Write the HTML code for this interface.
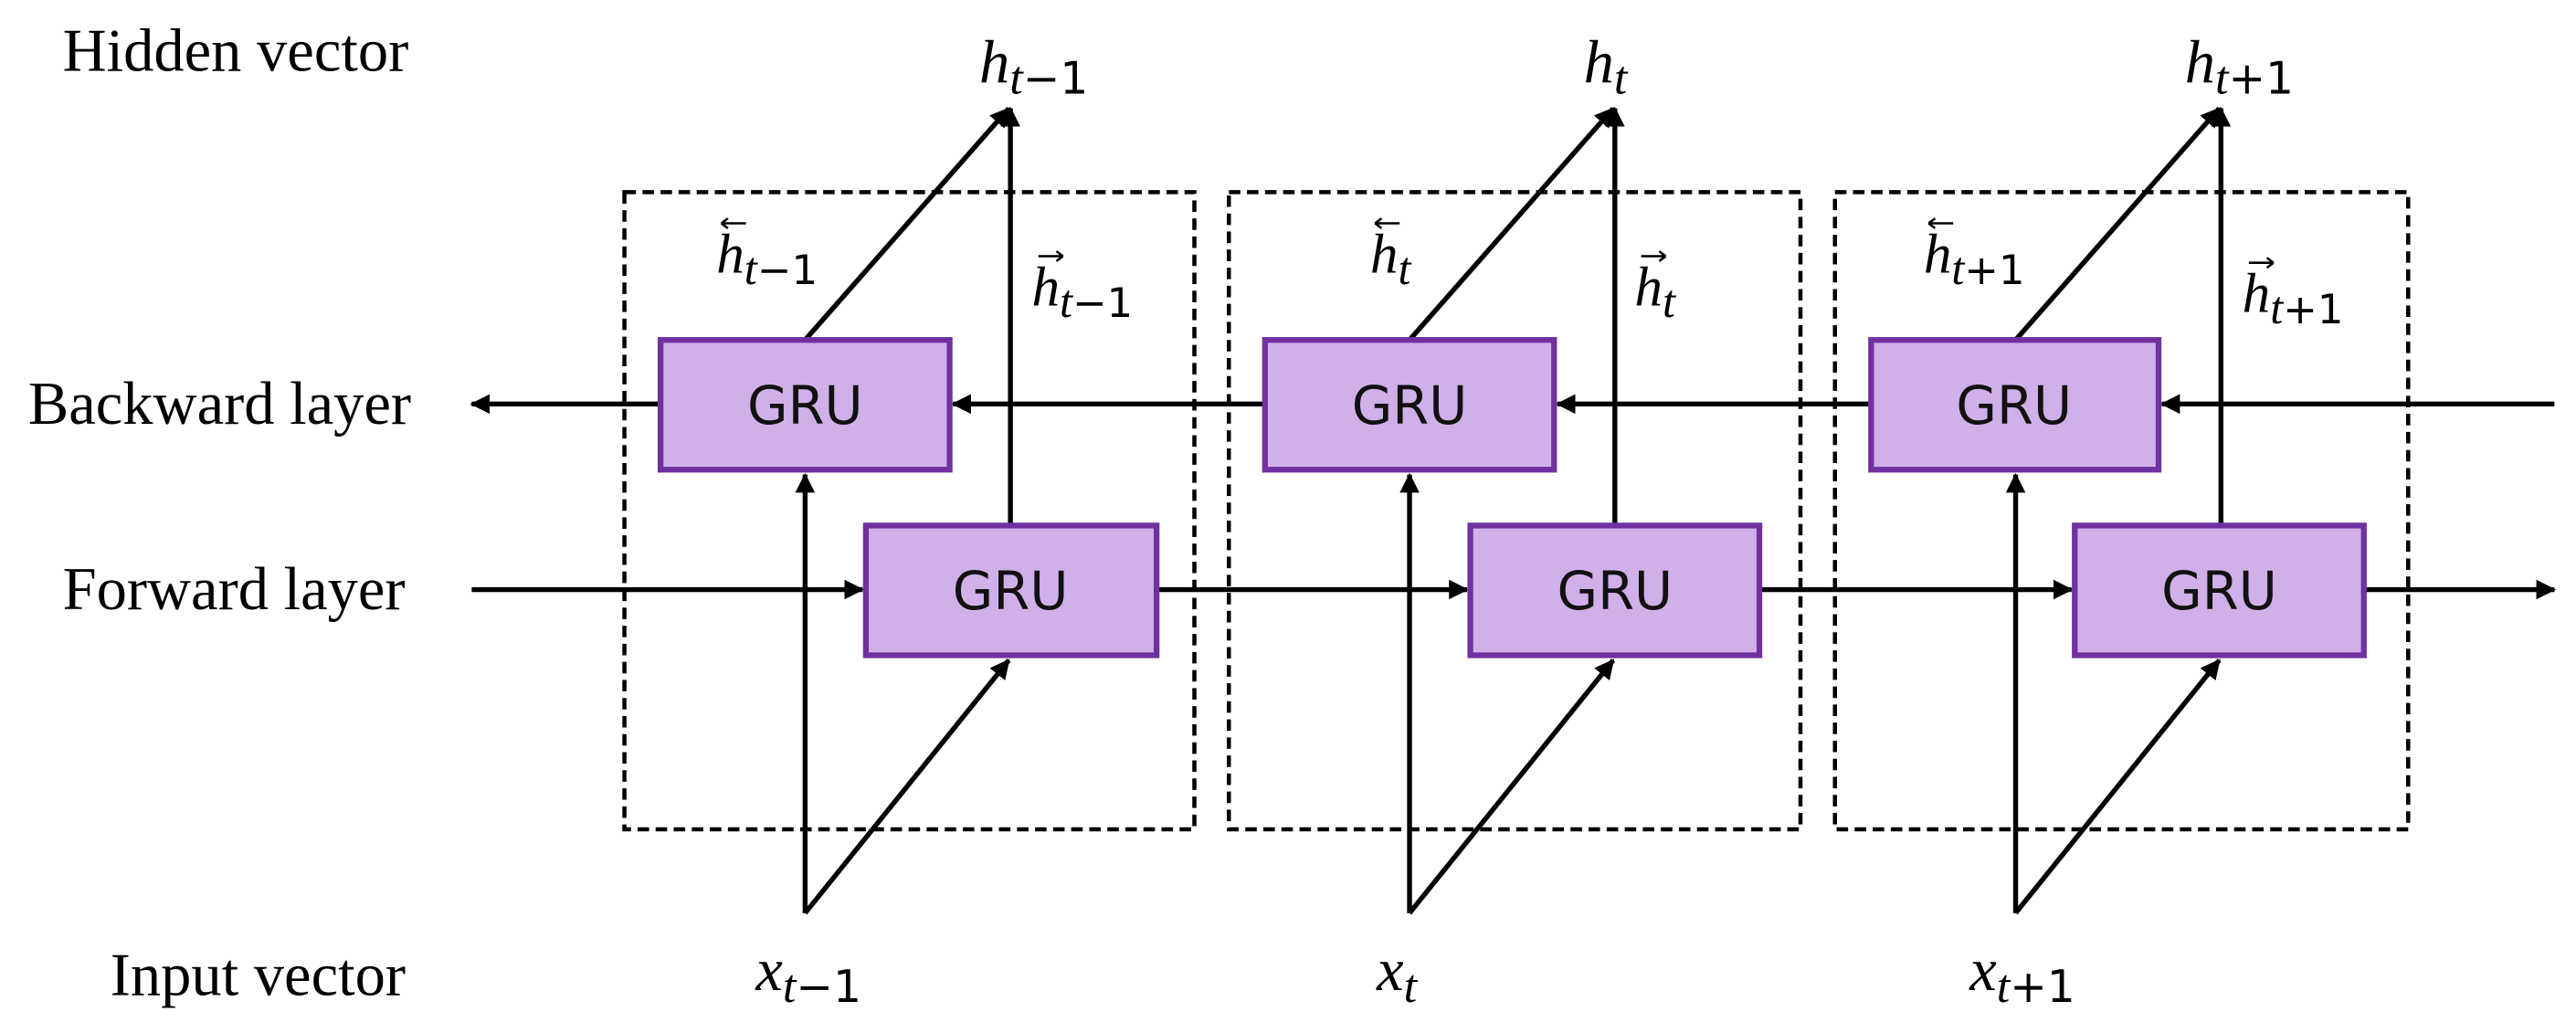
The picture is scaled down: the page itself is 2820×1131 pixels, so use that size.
<!DOCTYPE html>
<html><head><meta charset="utf-8"><style>
html,body{margin:0;padding:0;background:#fff;}
svg{display:block;}
.lab{font-family:"Liberation Serif",serif;font-size:37px;fill:#000;}
.gru{font-family:"DejaVu Sans","Liberation Sans",sans-serif;font-size:32px;fill:#111;}
.m{font-family:"Liberation Serif",serif;font-style:italic;fill:#000;}
.s{font-family:"DejaVu Sans","Liberation Sans",sans-serif;font-style:normal;}
</style></head><body>
<svg width="2820" height="1131" viewBox="0 0 1568 629" xmlns="http://www.w3.org/2000/svg">
<defs>
<marker id="a" markerWidth="12" markerHeight="12" refX="11" refY="6" orient="auto" markerUnits="userSpaceOnUse">
<path d="M0,0 L12,6 L0,12 Z" fill="#000"/>
</marker>
</defs>
<text class="lab" x="38" y="43">Hidden vector</text>
<text class="lab" x="17" y="258">Backward layer</text>
<text class="lab" x="38" y="371">Forward layer</text>
<text class="lab" x="67" y="606">Input vector</text>

<g fill="none" stroke="#000" stroke-width="2.5" stroke-dasharray="7,4">
<rect x="380" y="117" width="347" height="388"/>
<rect x="748" y="117" width="348" height="388"/>
<rect x="1117" y="117" width="349" height="388"/>
</g>

<g stroke="#000" stroke-width="3" fill="none" marker-end="url(#a)">
<line x1="1555" y1="246" x2="1316" y2="246"/>
<line x1="1139" y1="246" x2="948" y2="246"/>
<line x1="770" y1="246" x2="580" y2="246"/>
<line x1="402" y1="246" x2="287" y2="246"/>
<line x1="287" y1="359" x2="525" y2="359"/>
<line x1="704" y1="359" x2="893" y2="359"/>
<line x1="1071" y1="359" x2="1261" y2="359"/>
<line x1="1439" y1="359" x2="1555" y2="359"/>
</g>

<g stroke="#000" stroke-width="3" fill="none">
<g id="c1">
<polyline points="490,556 490,289" marker-end="url(#a)"/>
<line x1="490" y1="556" x2="614" y2="402" marker-end="url(#a)"/>
<line x1="490" y1="207" x2="614" y2="66" marker-end="url(#a)"/>
<line x1="615" y1="320" x2="615" y2="66" marker-end="url(#a)"/>
</g>
<use href="#c1" transform="translate(368,0)"/>
<use href="#c1" transform="translate(737,0)"/>
</g>

<g fill="#d0b0e8" stroke="#7030a0" stroke-width="3.5">
<rect x="402" y="207" width="176" height="79"/>
<rect x="770" y="207" width="176" height="79"/>
<rect x="1139" y="207" width="175" height="79"/>
<rect x="527" y="320" width="177" height="79"/>
<rect x="895" y="320" width="176" height="79"/>
<rect x="1263" y="320" width="176" height="79"/>
</g>
<g class="gru" text-anchor="middle">
<text x="490" y="258">GRU</text>
<text x="858" y="258">GRU</text>
<text x="1226" y="258">GRU</text>
<text x="615" y="371">GRU</text>
<text x="983" y="371">GRU</text>
<text x="1351" y="371">GRU</text>
</g>

<text class="m" x="596" y="50" font-size="37">h<tspan font-size="29" dy="7">t</tspan><tspan class="s" font-size="27">−1</tspan></text>
<text class="m" x="964" y="50" font-size="37">h<tspan font-size="29" dy="7">t</tspan></text>
<text class="m" x="1330" y="50" font-size="37">h<tspan font-size="29" dy="7">t</tspan><tspan class="s" font-size="27">+1</tspan></text>

<g font-size="34">
<text class="m" x="436" y="166">h<tspan font-size="28" dy="7">t</tspan><tspan class="s" font-size="25">−1</tspan></text>
<text class="m" x="834" y="166">h<tspan font-size="28" dy="7">t</tspan></text>
<text class="m" x="1171" y="166">h<tspan font-size="28" dy="7">t</tspan><tspan class="s" font-size="25">+1</tspan></text>
<text class="m" x="628" y="186">h<tspan font-size="28" dy="7">t</tspan><tspan class="s" font-size="25">−1</tspan></text>
<text class="m" x="995" y="186">h<tspan font-size="28" dy="7">t</tspan></text>
<text class="m" x="1365" y="190">h<tspan font-size="28" dy="7">t</tspan><tspan class="s" font-size="25">+1</tspan></text>
</g>
<g stroke="#000" stroke-width="1.4" fill="none">
<path d="M439,136 h15 M439,136 l4,-3 M439,136 l4,3"/>
<path d="M837,136 h15 M837,136 l4,-3 M837,136 l4,3"/>
<path d="M1174,136 h15 M1174,136 l4,-3 M1174,136 l4,3"/>
<path d="M632,156 h15 M647,156 l-4,-3 M647,156 l-4,3"/>
<path d="M999,156 h15 M1014,156 l-4,-3 M1014,156 l-4,3"/>
<path d="M1369,160 h15 M1384,160 l-4,-3 M1384,160 l-4,3"/>
</g>

<text class="m" x="460" y="603" font-size="37">x<tspan font-size="29" dy="7">t</tspan><tspan class="s" font-size="27">−1</tspan></text>
<text class="m" x="838" y="603" font-size="37">x<tspan font-size="29" dy="7">t</tspan></text>
<text class="m" x="1199" y="603" font-size="37">x<tspan font-size="29" dy="7">t</tspan><tspan class="s" font-size="27">+1</tspan></text>
</svg>
</body></html>
